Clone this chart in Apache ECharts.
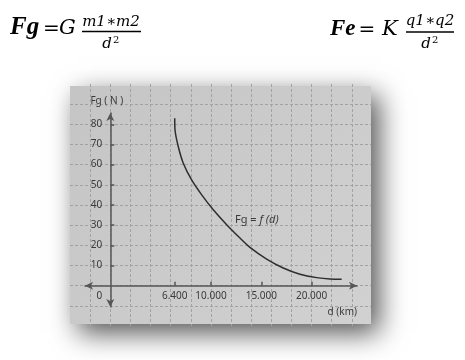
<!DOCTYPE html>
<html><head><meta charset="utf-8">
<script src="https://cdn.jsdelivr.net/npm/echarts@6/dist/echarts.min.js"></script>
<style>html,body{margin:0;padding:0;background:#fff}#c{width:465px;height:360px}</style>
</head><body><div id="c"></div>
<script>
// ---- data ----
const distanceKm = [6400, 6430, 6750, 7250, 8080, 9080, 10230, 11560, 12880, 13870, 15530, 17180, 18840, 20500, 21820, 22980];
const forceN     = [83, 77.2, 69, 60.7, 52.4, 45, 37.6, 30.2, 23.6, 19.0, 13.2, 8.8, 5.7, 4.0, 3.3, 3.2];
const xTickValues = [6400, 10000, 15000, 20000];
const yTickValues = [10, 20, 30, 40, 50, 60, 70, 80];
const yLabelValues = [0, 10, 20, 30, 40, 50, 60, 70, 80];
const xAxisTitle = 'd (km)';
const yAxisTitle = 'Fg ( N )';
const curveName = ['Fg = ', 'f (d)'];
const curveLabelAt = [12390, 32.6];

const chart = echarts.init(document.getElementById('c'), null, {renderer: 'canvas'});
const serif = '"DejaVu Serif", serif';
const tserif = '"Liberation Serif", serif';
const sans = '"Noto Sans", "Open Sans", sans-serif';
const fmt = v => String(v).replace(/\B(?=(\d{3})+(?!\d))/g, '.');
const ink = '#3a3a3a';
const axisCol = '#565656';
const gridLine = {show: true, showMinLine: false, showMaxLine: false, lineStyle: {color: '#a2a2a2', type: [3, 2], width: 1}};

function t(x, y, text, font, align) {
  return {type: 'text', x: x, y: y, style: {text: text, font: font, fill: '#000', align: align || 'left', verticalAlign: 'middle'}};
}

const option = {
  animation: false,
  backgroundColor: '#fff',
  graphic: {elements: [
    {type: 'rect', z: -100, shape: {x: 70, y: 86, width: 301, height: 238},
     style: {fill: new echarts.graphic.LinearGradient(0, 0, 1, 1, [
        {offset: 0, color: '#c5c5c5'}, {offset: 1, color: '#d1d1d1'}]),
       shadowBlur: 26, shadowColor: 'rgba(0,0,0,0.68)', shadowOffsetX: 8, shadowOffsetY: 9}},
    // left formula
    t(10, 28, 'Fg', 'italic bold 25px ' + tserif),
    t(51.5, 30, '=', '20px ' + serif, 'center'),
    t(59, 29, 'G', 'italic 21px ' + serif),
    t(111, 22, 'm1\u2217m2', 'italic 15px ' + serif, 'center'),
    {type: 'line', shape: {x1: 82, y1: 31.5, x2: 141, y2: 31.5}, style: {stroke: '#000', lineWidth: 1.5}},
    t(107, 44, 'd', 'italic 15px ' + serif, 'center'),
    t(113, 40, '2', '10px ' + serif),
    // right formula
    t(330, 29, 'Fe', 'italic bold 23px ' + tserif),
    t(367, 31, '=', '20px ' + serif, 'center'),
    t(382, 30, 'K', 'italic 21px ' + serif),
    t(430, 21, 'q1\u2217q2', 'italic 15px ' + serif, 'center'),
    {type: 'line', shape: {x1: 406, y1: 32, x2: 454, y2: 32}, style: {stroke: '#000', lineWidth: 1.5}},
    t(426, 44, 'd', 'italic 15px ' + serif, 'center'),
    t(432, 40, '2', '10px ' + serif)
  ]},
  grid: [
    {left: 70, top: 84, width: 301, height: 242},          // paper grid lines
    {left: 85, top: 113, width: 272, height: 172.7},       // x axis + curve
    {left: 110.3, top: 113, width: 246.7, height: 194}     // y axis
  ],
  xAxis: [
    {gridIndex: 0, type: 'value', min: -4000, max: 25900, interval: 2000,
     axisLine: {show: false}, axisTick: {show: false}, axisLabel: {show: false}, splitLine: gridLine},
    {gridIndex: 1, type: 'value', min: -2513, max: 24506, position: 'bottom',
     name: xAxisTitle, nameLocation: 'end', nameGap: 0,
     nameTextStyle: {color: ink, fontFamily: sans, fontSize: 10, align: 'right', verticalAlign: 'top', padding: [21, 0, 0, 0]},
     axisLine: {show: true, onZero: false, symbol: ['arrow', 'arrow'], symbolSize: [6, 8], lineStyle: {color: axisCol, width: 1.5}},
     axisTick: {show: true, inside: true, length: 4, customValues: xTickValues, lineStyle: {color: axisCol, width: 1.5}},
     axisLabel: {show: true, customValues: xTickValues, formatter: fmt, margin: 5, color: ink, fontFamily: sans, fontSize: 10},
     splitLine: {show: false}},
    {gridIndex: 2, type: 'value', min: 0, max: 24506, show: false}
  ],
  yAxis: [
    {gridIndex: 0, type: 'value', min: -20, max: 100, interval: 10,
     axisLine: {show: false}, axisTick: {show: false}, axisLabel: {show: false}, splitLine: gridLine},
    {gridIndex: 1, type: 'value', min: 0, max: 85.6, show: false},
    {gridIndex: 2, type: 'value', min: -10.56, max: 85.6, position: 'left',
     name: yAxisTitle, nameLocation: 'end', nameGap: 7,
     nameTextStyle: {color: ink, fontFamily: sans, fontSize: 10, padding: [0, 7, 0, 0]},
     axisLine: {show: true, onZero: false, symbol: ['arrow', 'arrow'], symbolSize: [6, 8], lineStyle: {color: axisCol, width: 1.5}},
     axisTick: {show: true, inside: true, length: 4, customValues: yTickValues, lineStyle: {color: axisCol, width: 1.5}},
     axisLabel: {show: true, customValues: yLabelValues, margin: 8, color: ink, fontFamily: sans, fontSize: 10,
       formatter: v => v === 0 ? '{z|0}' : String(v),
       rich: {z: {color: ink, fontFamily: sans, fontSize: 10, padding: [21, 0, 0, 0]}}},
     splitLine: {show: false}}
  ],
  series: [{
    type: 'line', xAxisIndex: 1, yAxisIndex: 1,
    data: distanceKm.map((d, i) => [d, forceN[i]]),
    showSymbol: false, smooth: 0.3, clip: false,
    lineStyle: {color: '#2e2e2e', width: 1.5},
    markPoint: {
      symbol: 'circle', symbolSize: 0, silent: true,
      data: [{coord: curveLabelAt}],
      label: {show: true, position: 'right', distance: 0,
        formatter: '{a|' + curveName[0] + '}{b|' + curveName[1] + '}',
        rich: {a: {color: ink, fontFamily: sans, fontSize: 11}, b: {color: ink, fontFamily: sans, fontSize: 11, fontStyle: 'italic'}}}
    }
  }]
};
chart.setOption(option);
</script></body></html>
